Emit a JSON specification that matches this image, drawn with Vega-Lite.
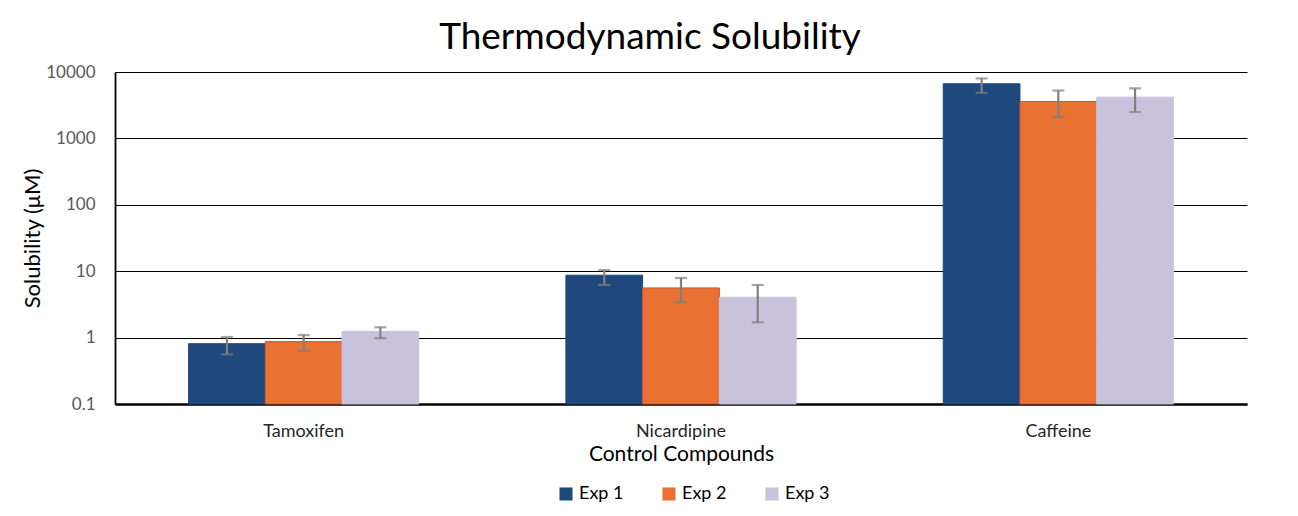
{
  "$schema": "https://vega.github.io/schema/vega-lite/v6.json",
  "autosize": "none",
  "width": 1132,
  "height": 332,
  "padding": {"left": 115, "top": 72, "right": 51, "bottom": 112},
  "background": "white",
  "title": {
    "text": "Thermodynamic Solubility",
    "font": "Lato",
    "fontSize": 37,
    "fontWeight": "normal",
    "color": "#000000",
    "frame": "group",
    "anchor": "middle",
    "dx": -31,
    "offset": 6
  },
  "config": {
    "view": {"stroke": null},
    "font": "Lato"
  },
  "data": {
    "values": [
      {"Compound": "Tamoxifen", "Exp": "Exp 1", "value": 0.81, "lo": 0.56, "hi": 1.02},
      {"Compound": "Tamoxifen", "Exp": "Exp 2", "value": 0.87, "lo": 0.63, "hi": 1.09},
      {"Compound": "Tamoxifen", "Exp": "Exp 3", "value": 1.24, "lo": 0.98, "hi": 1.43},
      {"Compound": "Nicardipine", "Exp": "Exp 1", "value": 8.7, "lo": 6.2, "hi": 10.4},
      {"Compound": "Nicardipine", "Exp": "Exp 2", "value": 5.6, "lo": 3.4, "hi": 7.9},
      {"Compound": "Nicardipine", "Exp": "Exp 3", "value": 4.05, "lo": 1.7, "hi": 6.2},
      {"Compound": "Caffeine", "Exp": "Exp 1", "value": 6650, "lo": 4850, "hi": 8000},
      {"Compound": "Caffeine", "Exp": "Exp 2", "value": 3590, "lo": 2100, "hi": 5260},
      {"Compound": "Caffeine", "Exp": "Exp 3", "value": 4180, "lo": 2500, "hi": 5650}
    ]
  },
  "encoding": {
    "x": {
      "field": "Compound",
      "type": "nominal",
      "sort": ["Tamoxifen", "Nicardipine", "Caffeine"],
      "scale": {"paddingInner": 0.39, "paddingOuter": 0.195},
      "axis": {
        "title": "Control Compounds",
        "titleFont": "Lato",
        "titleFontSize": 21,
        "titleFontWeight": "normal",
        "titleColor": "#000000",
        "titlePadding": 3,
        "labelAngle": 0,
        "labelFontSize": 18,
        "labelColor": "#262626",
        "labelPadding": 18,
        "ticks": false,
        "domainColor": "#000000",
        "domainWidth": 2.5
      }
    },
    "xOffset": {
      "field": "Exp",
      "type": "nominal",
      "scale": {"paddingInner": 0, "paddingOuter": 0}
    }
  },
  "layer": [
    {
      "mark": {"type": "bar", "strokeWidth": 1},
      "encoding": {
        "y": {
          "field": "value",
          "type": "quantitative",
          "scale": {"type": "log", "domain": [0.1, 10000], "nice": false},
          "axis": {
            "title": "Solubility (μM)",
            "titleFont": "Lato",
            "titleFontSize": 22,
            "titleFontWeight": "normal",
            "titleColor": "#000000",
            "titlePadding": 1,
            "values": [0.1, 1, 10, 100, 1000, 10000],
            "format": "~g",
            "labelFontSize": 17,
            "labelColor": "#595959",
            "labelPadding": 20,
            "ticks": false,
            "grid": true,
            "gridColor": "#000000",
            "gridWidth": 1.2,
            "domainColor": "#000000",
            "domainWidth": 1.8
          }
        },
        "y2": {"datum": 0.1},
        "color": {
          "field": "Exp",
          "type": "nominal",
          "scale": {
            "domain": ["Exp 1", "Exp 2", "Exp 3"],
            "range": ["#1F497D", "#E97132", "#C9C2DC"]
          },
          "legend": {
            "title": null,
            "orient": "none",
            "direction": "horizontal",
            "legendX": 442,
            "legendY": 413,
            "symbolType": "square",
            "symbolSize": 170,
            "symbolStrokeWidth": 0,
            "labelFontSize": 18,
            "labelColor": "#000000",
            "labelOffset": 4,
            "columnPadding": 36
          }
        },
        "stroke": {
          "field": "Exp",
          "type": "nominal",
          "scale": {
            "domain": ["Exp 1", "Exp 2", "Exp 3"],
            "range": ["#1F497D", "#C9583A", "#C9C2DC"]
          },
          "legend": null
        }
      }
    },
    {
      "mark": {"type": "rule", "color": "#7F7F7F", "strokeWidth": 2.2},
      "encoding": {
        "y": {"field": "lo", "type": "quantitative"},
        "y2": {"field": "hi"}
      }
    },
    {
      "mark": {"type": "tick", "color": "#7F7F7F", "thickness": 2.2, "size": 12},
      "encoding": {
        "y": {"field": "lo", "type": "quantitative"}
      }
    },
    {
      "mark": {"type": "tick", "color": "#7F7F7F", "thickness": 2.2, "size": 12},
      "encoding": {
        "y": {"field": "hi", "type": "quantitative"}
      }
    }
  ]
}
